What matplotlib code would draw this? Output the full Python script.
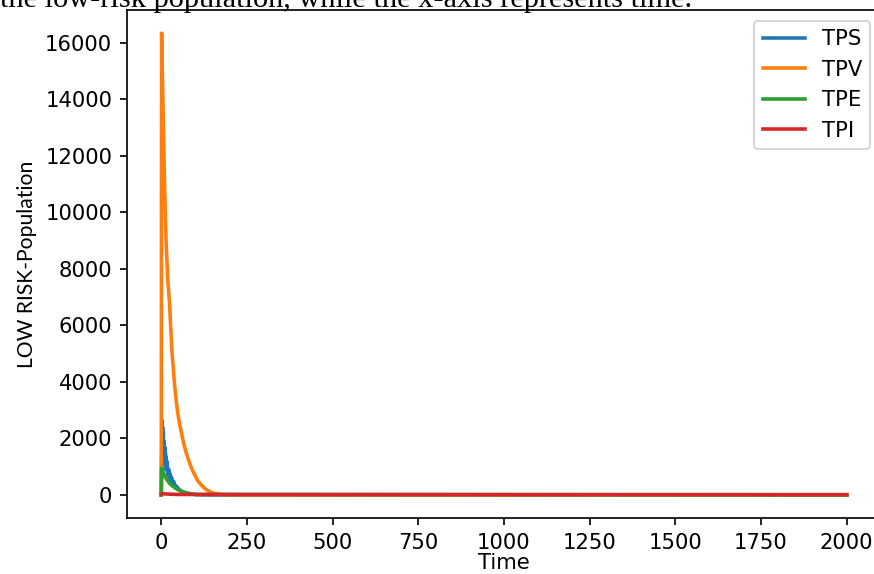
import matplotlib
matplotlib.use("Agg")
import matplotlib.pyplot as plt

# ---- data ----
tps_t = [0, 1, 2, 3, 4, 5, 6, 7, 8, 9, 10, 11, 12, 13, 14, 15, 16, 18, 20, 22, 24, 26, 28, 30,
         33, 36, 40, 45, 50, 55, 60, 70, 80, 90, 100, 120, 150, 2000]
tps_v = [0, 1200, 2650, 1400, 2400, 1500, 2200, 1300, 1900, 1150, 1700, 1050, 1500, 950, 1350,
         880, 1200, 1000, 700, 900, 600, 750, 500, 620, 420, 480, 330, 300, 220, 170, 130, 80,
         50, 30, 15, 5, 0, 0]

tpv_t = [0, 0.5, 1, 3, 5, 7, 10, 14, 19, 24, 28, 31, 35, 38, 41, 44, 47, 50, 54, 58, 63, 68,
         73, 78, 84, 90, 98, 107, 116, 125, 135, 146, 158, 170, 185, 200, 250, 2000]
tpv_v = [0, 9000, 16350, 15000, 13800, 12500, 10800, 9000, 7600, 6800, 5800, 5100, 4500, 4000,
         3650, 3300, 3000, 2750, 2480, 2250, 1950, 1700, 1480, 1300, 1080, 900, 700, 490, 360,
         250, 160, 90, 50, 25, 12, 5, 0, 0]

tpe_t = [0, 1, 2, 4, 7, 10, 15, 20, 25, 30, 40, 50, 60, 70, 85, 100, 2000]
tpe_v = [0, 950, 900, 850, 760, 680, 560, 480, 400, 340, 250, 170, 120, 80, 40, 15, 0]

tpi_t = [0, 2, 10, 50, 2000]
tpi_v = [30, 50, 35, 15, 10]

series_labels = ["TPS", "TPV", "TPE", "TPI"]
x_ticks = [0, 250, 500, 750, 1000, 1250, 1500, 1750, 2000]
x_label = "Time"
y_label = "LOW RISK-Population"
caption = "the low-risk population, while the x-axis represents time."

# ---- figure ----
DPI = 152
fig = plt.figure(figsize=(874 / DPI, 574 / DPI), dpi=DPI)
ax = fig.add_axes([127 / 874, 56 / 574, 754 / 874, 508 / 574])

LW = 1.7
ax.plot(tps_t, tps_v, color="#1f77b4", lw=LW, label=series_labels[0])
ax.plot(tpv_t, tpv_v, color="#ff7f0e", lw=LW, label=series_labels[1])
ax.plot(tpe_t, tpe_v, color="#2ca02c", lw=LW, label=series_labels[2])
ax.plot(tpi_t, tpi_v, color="#d62728", lw=LW, label=series_labels[3])

ax.set_xticks(x_ticks)
ax.set_xlabel(x_label, labelpad=0)
ax.set_ylabel(y_label, family=["Lato", "DejaVu Sans"])
ax.legend(loc="upper right")

fig.text(0.0, 1 - 7 / 574, caption, family=["Liberation Serif"], fontsize=14.4,
         va="baseline", ha="left")

fig.savefig("out.png", dpi=DPI)
